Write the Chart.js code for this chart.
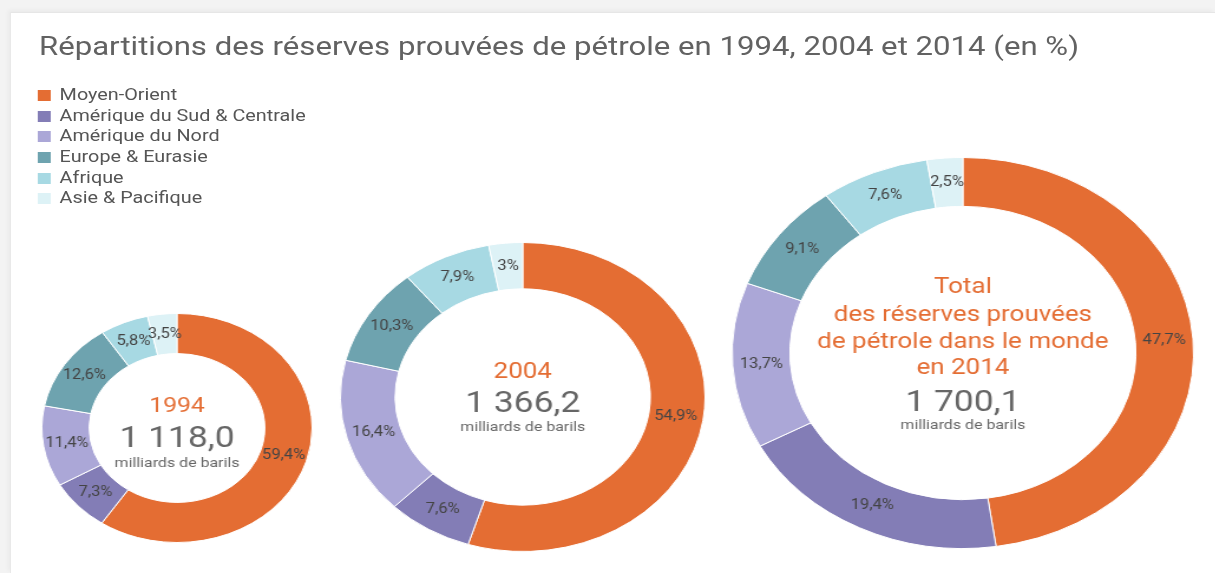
<!DOCTYPE html>
<html>
<head>
<meta charset="utf-8">
<script src="https://cdn.jsdelivr.net/npm/chart.js@4.4.1/dist/chart.umd.min.js"></script>
<style>
  body { margin: 0; width: 1215px; height: 573px; overflow: hidden; background: #f3f3f3; font-family: Roboto, sans-serif; }
  #card { position: absolute; left: 10px; top: 12px; right: 0; bottom: 0; background: #fff; border-top: 1px solid #e6e6e6; border-left: 1px solid #e9e9e9; box-shadow: -2px -2px 4px rgba(0,0,0,0.04); }
  #page { position: absolute; left: 0; top: 0; width: 1030px; height: 573px; transform: scaleX(1.18); transform-origin: 0 0; }
  #title { position: absolute; left: 33px; top: 31px; font-size: 26.4px; line-height: 30px; color: #626262; white-space: nowrap; }
  #legend { position: absolute; left: 32px; top: 84px; font-size: 16.8px; color: #555; }
  #legend div { height: 20.7px; line-height: 20.7px; white-space: nowrap; }
  #legend span { display: inline-block; width: 11px; height: 11px; margin-right: 7.5px; vertical-align: -1px; }
  canvas { position: absolute; }
</style>
</head>
<body>
<div id="card"></div>
<div id="page">
  <div id="title">Répartitions des réserves prouvées de pétrole en 1994, 2004 et 2014 (en %)</div>
  <div id="legend"></div>
  <canvas id="c1994" width="232" height="232" style="left:34px;top:312px"></canvas>
  <canvas id="c2004" width="312" height="312" style="left:287px;top:241px"></canvas>
  <canvas id="c2014" width="394" height="394" style="left:619px;top:156px"></canvas>
</div>
<script>
const regions = ['Moyen-Orient', 'Amérique du Sud & Centrale', 'Amérique du Nord', 'Europe & Eurasie', 'Afrique', 'Asie & Pacifique'];
const shares1994 = [59.4, 7.3, 11.4, 12.6, 5.8, 3.5];
const shares2004 = [54.9, 7.6, 16.4, 10.3, 7.9, 3];
const shares2014 = [47.7, 19.4, 13.7, 9.1, 7.6, 2.5];
const totals = ['1 118,0', '1 366,2', '1 700,1'];
const unit = 'milliards de barils';

const palette = ['#e46d33', '#837db6', '#aba7d7', '#6ea3af', '#a7d9e3', '#ddf2f6'];
const orange = '#e46d33';
const grey = '#666';

// legend
const legend = document.getElementById('legend');
regions.forEach((r, i) => {
  const row = document.createElement('div');
  row.innerHTML = '<span style="background:' + palette[i] + '"></span>' + r;
  legend.appendChild(row);
});

const fmt = v => String(v).replace('.', ',') + '%';

// percent labels in the middle of the ring
const sliceLabels = {
  id: 'sliceLabels',
  afterDatasetsDraw(chart) {
    const ctx = chart.ctx;
    const meta = chart.getDatasetMeta(0);
    ctx.save();
    ctx.font = '14px Roboto';
    ctx.fillStyle = '#444';
    ctx.textAlign = 'center';
    ctx.textBaseline = 'middle';
    meta.data.forEach((arc, i) => {
      const p = arc.tooltipPosition();
      ctx.fillText(fmt(chart.data.datasets[0].data[i]), p.x, p.y);
    });
    ctx.restore();
  }
};

// text in the hole
const centerText = {
  id: 'centerText',
  afterDraw(chart, args, opts) {
    const ctx = chart.ctx;
    const arc = chart.getDatasetMeta(0).data[0];
    ctx.save();
    ctx.textAlign = 'center';
    ctx.textBaseline = 'middle';
    opts.lines.forEach(l => {
      ctx.font = l.size + 'px Roboto';
      ctx.fillStyle = l.color;
      ctx.fillText(l.text, arc.x, arc.y + l.dy);
    });
    ctx.restore();
  }
};

function makeDoughnut(id, values, cutout, lines) {
  return new Chart(document.getElementById(id), {
    type: 'doughnut',
    data: {
      labels: regions,
      datasets: [{
        data: values,
        backgroundColor: palette,
        borderColor: '#fff',
        borderWidth: 1
      }]
    },
    options: {
      responsive: false,
      animation: false,
      devicePixelRatio: 1,
      cutout: cutout,
      layout: { padding: 1 },
      plugins: {
        legend: { display: false },
        tooltip: { enabled: false },
        centerText: { lines: lines }
      }
    },
    plugins: [sliceLabels, centerText]
  });
}

makeDoughnut('c1994', shares1994, '65%', [
  { text: '1994', size: 21, color: orange, dy: -21 },
  { text: totals[0], size: 30, color: grey, dy: 11 },
  { text: unit, size: 13.5, color: grey, dy: 36 }
]);

makeDoughnut('c2004', shares2004, '70%', [
  { text: '2004', size: 22, color: orange, dy: -25 },
  { text: totals[1], size: 30, color: grey, dy: 7 },
  { text: unit, size: 13.5, color: grey, dy: 31 }
]);

makeDoughnut('c2014', shares2014, '75%', [
  { text: 'Total', size: 22, color: orange, dy: -66 },
  { text: 'des réserves prouvées', size: 22, color: orange, dy: -38 },
  { text: 'de pétrole dans le monde', size: 22, color: orange, dy: -11 },
  { text: 'en 2014', size: 22, color: orange, dy: 15 },
  { text: totals[2], size: 30, color: grey, dy: 50 },
  { text: unit, size: 13.5, color: grey, dy: 73 }
]);
</script>
</body>
</html>
